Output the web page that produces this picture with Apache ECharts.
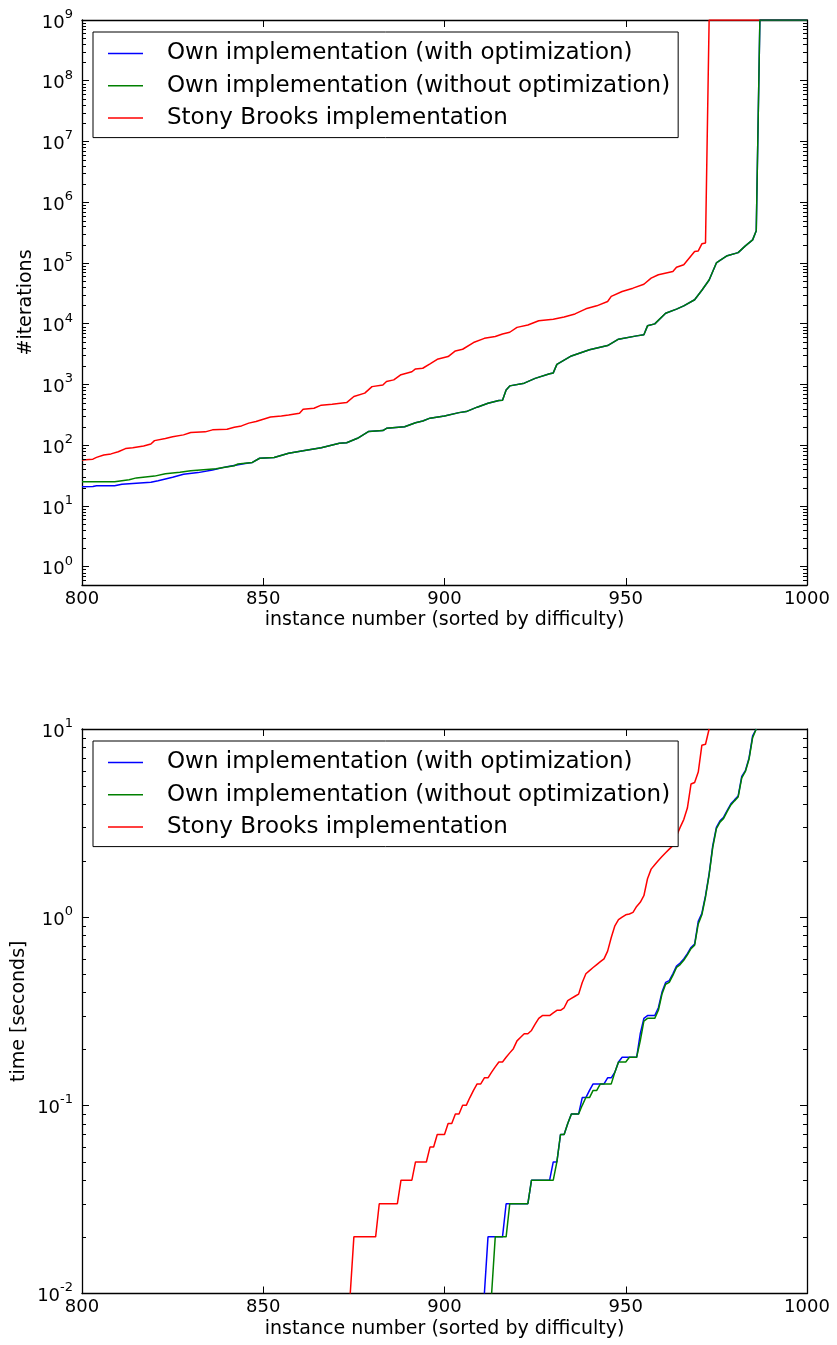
<!DOCTYPE html>
<html>
<head>
<meta charset="utf-8">
<title>Solver comparison</title>
<script src="https://cdn.jsdelivr.net/npm/echarts@6/dist/echarts.min.js"></script>
<style>
  html, body { margin: 0; padding: 0; background: #fff; }
  #chart { width: 837px; height: 1345px; }
</style>
</head>
<body>
<div id="chart"></div>
<script>
// Series names
const nameOpt = 'Own implementation (with optimization)';
const nameNoOpt = 'Own implementation (without optimization)';
const nameSB = 'Stony Brooks implementation';

// Iterations per instance [instance, #iterations]; unsolved instances are capped at 1e9
const iterSB = [
  [800,57],[803,59],[804,63],[806,69],[808,72],[810,78],[812,88],[814,91],[817,97],[819,105],
  [820,119],[823,129],[825,138],[828,148],[830,162],[834,166],[836,179],[840,183],[842,198],[844,208],
  [846,231],[848,245],[850,268],[852,292],[855,303],[857,315],[860,337],[861,392],[864,407],[866,457],
  [869,473],[873,504],[875,633],[878,720],[880,922],[883,980],[884,1120],[886,1190],[888,1450],[891,1620],
  [892,1800],[894,1850],[896,2190],[898,2600],[901,2880],[903,3570],[905,3800],[908,4900],[911,5750],[914,6170],
  [916,6760],[918,7240],[920,8710],[923,9550],[926,11200],[930,11900],[933,12900],[936,14500],[939,17600],[942,19700],
  [945,23200],[946,28200],[949,33900],[952,38500],[955,44700],[957,56200],[959,64000],[963,72400],[964,85100],[966,93300],
  [969,155000],[970,158000],[971,207000],[972,214000],[973,1e9],[1000,1e9]
];
const iterOpt = [
  [800,20.8],[803,21],[804,21.6],[809,21.6],[811,22.8],[815,23.7],[819,24.5],[821,26],[825,29.7],[828,33.3],
  [832,35.4],[836,39.2],[840,44.4],[845,50],[847,52],[849,61],[853,63],[857,74],[861,81],[866,91],
  [871,108],[873,110],[876,130],[879,168],[883,174],[884,190],[889,202],[892,235],[894,251],[896,279],
  [900,303],[904,344],[906,358],[909,423],[912,490],[915,543],[916,550],[917,813],[918,948],[922,1050],
  [925,1260],[929,1500],[930,1550],[931,2140],[935,2950],[940,3720],[945,4370],[948,5570],[953,6310],[955,6600],
  [956,9230],[958,9950],[961,14900],[964,17400],[966,19700],[969,24800],[971,35500],[973,52500],[975,100000],[976,110000],
  [978,132000],[981,148000],[983,191000],[985,240000],[986,340000],[987,1e9],[1000,1e9]
];
const iterNoOpt = [
  [800,25],[809,25],[813,27],[815,29],[820,31],[823,34],[827,36],[830,38],[837,41],[839,43],
  [842,46],[843,49],[847,52],[849,61],[853,63],[857,74],[861,81],[866,91],[871,108],[873,110],
  [876,130],[879,168],[883,174],[884,190],[889,202],[892,235],[894,251],[896,279],[900,303],[904,344],
  [906,358],[909,423],[912,490],[915,543],[916,550],[917,813],[918,948],[922,1050],[925,1260],[929,1500],
  [930,1550],[931,2140],[935,2950],[940,3720],[945,4370],[948,5570],[953,6310],[955,6600],[956,9230],[958,9950],
  [961,14900],[964,17400],[966,19700],[969,24800],[971,35500],[973,52500],[975,100000],[976,110000],[978,132000],[981,148000],
  [983,191000],[985,240000],[986,340000],[987,1e9],[1000,1e9]
];

// Run time per instance [instance, seconds]; timings are in steps of 0.01 s
const timeSB = [
  [874,0.01],[875,0.02],[881,0.02],[882,0.03],[887,0.03],[888,0.04],[891,0.04],[892,0.05],[895,0.05],[896,0.06],
  [897,0.06],[898,0.07],[900,0.07],[901,0.08],[902,0.08],[903,0.09],[904,0.09],[905,0.10],[906,0.10],[907,0.11],
  [908,0.12],[909,0.13],[910,0.13],[911,0.14],[912,0.14],[913,0.15],[914,0.16],[915,0.17],[916,0.17],[917,0.18],
  [918,0.19],[919,0.20],[920,0.22],[921,0.23],[922,0.24],[923,0.24],[924,0.25],[925,0.27],[926,0.29],[927,0.30],
  [929,0.30],[930,0.31],[931,0.32],[932,0.32],[933,0.33],[934,0.36],[935,0.37],[936,0.38],[937,0.39],[938,0.45],
  [939,0.50],[940,0.52],[941,0.54],[942,0.56],[943,0.58],[944,0.60],[945,0.66],[946,0.78],[947,0.90],[948,0.97],
  [949,1.00],[950,1.03],[951,1.04],[952,1.06],[953,1.14],[954,1.20],[955,1.30],[956,1.60],[957,1.80],[958,1.90],
  [959,2.00],[960,2.10],[961,2.20],[962,2.30],[963,2.40],[964,2.70],[965,3.00],[966,3.30],[967,3.80],[968,5.10],
  [969,5.20],[970,5.90],[971,8.20],[972,8.30],[973,10]
];
const timeOpt = [
  [911,0.01],[912,0.02],[916,0.02],[917,0.03],[923,0.03],[924,0.04],[929,0.04],[930,0.05],[931,0.05],[932,0.07],
  [933,0.07],[934,0.08],[935,0.09],[937,0.09],[938,0.11],[939,0.11],[940,0.12],[941,0.13],[944,0.13],[945,0.14],
  [946,0.14],[947,0.15],[948,0.17],[949,0.18],[953,0.18],[954,0.24],[955,0.29],[956,0.30],[958,0.30],[959,0.33],
  [960,0.40],[961,0.45],[962,0.46],[963,0.50],[964,0.55],[965,0.57],[966,0.60],[967,0.64],[968,0.69],[969,0.72],
  [970,0.95],[971,1.05],[972,1.30],[973,1.70],[974,2.40],[975,3.00],[976,3.25],[977,3.40],[978,3.70],[979,4.00],
  [980,4.20],[981,4.40],[982,5.60],[983,6.00],[984,7.00],[985,9.20],[986,10]
];
const timeNoOpt = [
  [913,0.01],[914,0.02],[917,0.02],[918,0.03],[923,0.03],[924,0.04],[930,0.04],[931,0.05],[932,0.07],[933,0.07],
  [934,0.08],[935,0.09],[937,0.09],[938,0.10],[939,0.11],[940,0.11],[941,0.12],[942,0.12],[943,0.13],[946,0.13],
  [947,0.15],[948,0.17],[950,0.17],[951,0.18],[953,0.18],[954,0.22],[955,0.28],[956,0.29],[958,0.29],[959,0.32],
  [960,0.39],[961,0.44],[962,0.45],[963,0.49],[964,0.54],[965,0.56],[966,0.59],[967,0.63],[968,0.68],[969,0.71],
  [970,0.92],[971,1.03],[972,1.28],[973,1.68],[974,2.35],[975,2.95],[976,3.20],[977,3.35],[978,3.65],[979,3.95],
  [980,4.15],[981,4.35],[982,5.50],[983,5.95],[984,6.90],[985,9.00],[986,10]
];

// Axis ranges
const instRange = [800, 1000];
const iterRange = [0.5, 1e9];
const timeRange = [0.01, 10];

const FONT = 'DejaVu Sans';
const colors = { opt: '#0000ff', noOpt: '#008000', sb: '#ff0000' };

// Minor log ticks (2..9 per decade) inside a value range
function minorLogValues(lo, hi) {
  const out = [];
  for (let e = Math.floor(Math.log10(lo)); e <= Math.ceil(Math.log10(hi)); e++) {
    for (let k = 2; k <= 9; k++) {
      const v = k * Math.pow(10, e);
      if (v > lo * 1.0001 && v < hi * 0.9999) out.push([instRange[0], v]);
    }
  }
  return out;
}

function powLabel(v) {
  const lg = Math.log10(v);
  const e = Math.round(lg);
  if (Math.abs(lg - e) > 1e-6) return '';
  return '{b|10}{s|' + e + '}';
}

const logLabel = {
  show: true,
  fontFamily: FONT,
  fontSize: 18,
  color: '#000',
  margin: 9,
  lineHeight: 30,
  padding: [6, 0, 0, 0],
  formatter: powLabel,
  rich: {
    b: { fontFamily: FONT, fontSize: 18, lineHeight: 30, color: '#000' },
    s: { fontFamily: FONT, fontSize: 13, lineHeight: 13, verticalAlign: 'top', color: '#000' }
  }
};

const axisLine = { show: true, onZero: false, lineStyle: { color: '#000', width: 1.3 } };
const majorTick = { show: true, inside: true, length: 7, lineStyle: { color: '#000', width: 1 } };

function xAxes(gridIndex) {
  const base = {
    type: 'value', gridIndex, min: instRange[0], max: instRange[1], interval: 50,
    axisLine, axisTick: majorTick, splitLine: { show: false }
  };
  return [
    Object.assign({}, base, {
      position: 'bottom',
      name: 'instance number (sorted by difficulty)',
      nameLocation: 'middle', nameGap: 26, nameMoveOverlap: false,
      nameTextStyle: { fontFamily: FONT, fontSize: 19, color: '#000', verticalAlign: 'top' },
      axisLabel: { fontFamily: FONT, fontSize: 18, color: '#000', margin: 5, formatter: v => String(v) }
    }),
    Object.assign({}, base, { position: 'top', axisLabel: { show: false } })
  ];
}

function yAxes(gridIndex, range, split, title, gap) {
  const base = {
    type: 'log', logBase: 10, gridIndex, min: range[0], max: range[1], splitNumber: split,
    axisLine, axisTick: majorTick, splitLine: { show: false }, minorTick: { show: false }
  };
  return [
    Object.assign({}, base, {
      position: 'left', name: title, nameLocation: 'middle', nameGap: gap, nameMoveOverlap: false,
      nameTextStyle: { fontFamily: FONT, fontSize: 19, color: '#000' },
      axisLabel: logLabel
    }),
    Object.assign({}, base, { position: 'right', axisLabel: { show: false } })
  ];
}

function lineSeries(name, data, color, xi, yi) {
  return {
    type: 'line', name, data, xAxisIndex: xi, yAxisIndex: yi,
    showSymbol: false, symbol: 'none', color,
    lineStyle: { color, width: 1.5 }, itemStyle: { color },
    emphasis: { disabled: true }, animation: false, clip: true
  };
}

function minorTickSeries(xi, yi, range) {
  return {
    type: 'custom', xAxisIndex: xi, yAxisIndex: yi, silent: true, z: 4, animation: false,
    data: minorLogValues(range[0], range[1]),
    renderItem: function (params, api) {
      const v = api.value(1);
      const l = api.coord([instRange[0], v]);
      const r = api.coord([instRange[1], v]);
      const y = Math.round(l[1]) + 0.5;
      return {
        type: 'group',
        children: [
          { type: 'line', shape: { x1: l[0], y1: y, x2: l[0] + 4, y2: y }, style: { stroke: '#000', lineWidth: 1 } },
          { type: 'line', shape: { x1: r[0], y1: y, x2: r[0] - 4, y2: y }, style: { stroke: '#000', lineWidth: 1 } }
        ]
      };
    }
  };
}

function legendAt(top) {
  return {
    data: [nameOpt, nameNoOpt, nameSB],
    orient: 'vertical', left: 93, top,
    padding: [10, 8, 8, 15], itemGap: 9.3,
    itemWidth: 35, itemHeight: 1.5, icon: 'rect',
    backgroundColor: '#fff', borderColor: '#000', borderWidth: 1, borderRadius: 0,
    selectedMode: false, z: 10,
    textStyle: { fontFamily: FONT, fontSize: 23, color: '#000', lineHeight: 21, padding: [0, 0, 0, 19] }
  };
}

const chart = echarts.init(document.getElementById('chart'), null, { renderer: 'canvas' });
chart.setOption({
  backgroundColor: '#fff',
  animation: false,
  grid: [
    { left: 82, top: 20, width: 725, height: 565 },
    { left: 82, top: 729, width: 725, height: 564.5 }
  ],
  legend: [legendAt(32), legendAt(741)],
  xAxis: [...xAxes(0), ...xAxes(1)],
  yAxis: [
    ...yAxes(0, iterRange, 10, '#iterations', 46),
    ...yAxes(1, timeRange, 3, 'time [seconds]', 53)
  ],
  series: [
    lineSeries(nameSB, iterSB, colors.sb, 0, 0),
    lineSeries(nameOpt, iterOpt, colors.opt, 0, 0),
    lineSeries(nameNoOpt, iterNoOpt, colors.noOpt, 0, 0),
    lineSeries(nameSB, timeSB, colors.sb, 2, 2),
    lineSeries(nameOpt, timeOpt, colors.opt, 2, 2),
    lineSeries(nameNoOpt, timeNoOpt, colors.noOpt, 2, 2),
    minorTickSeries(0, 0, iterRange),
    minorTickSeries(2, 2, timeRange)
  ]
});
</script>
</body>
</html>
